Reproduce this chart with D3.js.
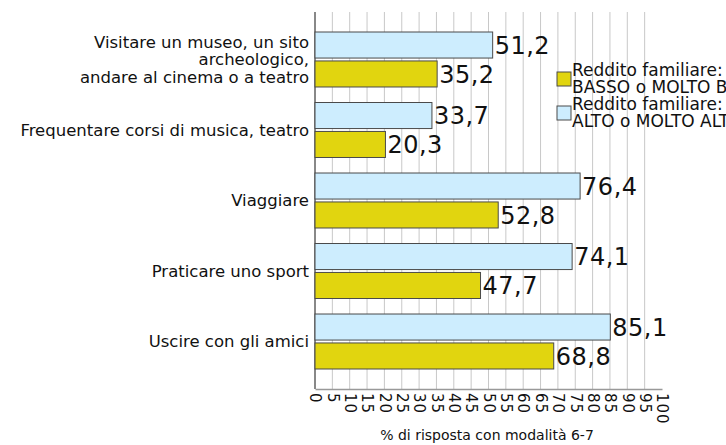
<!DOCTYPE html>
<html>
<head>
<meta charset="utf-8">
<script src="https://cdn.jsdelivr.net/npm/d3@7"></script>
<style>
  body { margin: 0; background: #fff; }
  svg { display: block; overflow: hidden; }
  text { font-family: "DejaVu Sans", sans-serif; fill: #111; }
</style>
</head>
<body>
<svg id="chart"></svg>
<script>
// data
const categories = [
  "Visitare un museo, un sito archeologico, andare al cinema o a teatro",
  "Frequentare corsi di musica, teatro",
  "Viaggiare",
  "Praticare uno sport",
  "Uscire con gli amici"
];
const categoryLines = [
  ["Visitare un museo, un sito", "archeologico,", "andare al cinema o a teatro"],
  ["Frequentare corsi di musica, teatro"],
  ["Viaggiare"],
  ["Praticare uno sport"],
  ["Uscire con gli amici"]
];
const seriesKeys = ["alto", "basso"];
const altoValues = [51.2, 33.7, 76.4, 74.1, 85.1];
const bassoValues = [35.2, 20.3, 52.8, 47.7, 68.8];
const xTicks = d3.range(0, 101, 5);
const legendLabels = [
  ["Reddito familiare:", "BASSO o MOLTO BASSO"],
  ["Reddito familiare:", "ALTO  o MOLTO ALTO"]
];
const axisTitle = "% di risposta con modalità 6-7";

const colors = { alto: "#cdedfe", basso: "#e1d50f" };

const width = 726, height = 445;
const plot = { left: 315, right: 662, top: 12, bottom: 389 };

const svg = d3.select("#chart").attr("width", width).attr("height", height);

const rows = categories.map((c, i) => ({ cat: c, alto: altoValues[i], basso: bassoValues[i] }));

const xScale = d3.scaleLinear().domain([0, 100]).range([plot.left, plot.right]);
const yScale = d3.scaleBand().domain(categories).range([32, 369]).paddingInner(0.22);
const ySub = d3.scaleBand().domain(seriesKeys).range([0, yScale.bandwidth()]).paddingInner(0.1);

// gridlines
svg.append("g")
  .selectAll("line")
  .data(xTicks.filter(t => t > 0 && t < 100))
  .join("line")
  .attr("x1", d => xScale(d)).attr("x2", d => xScale(d))
  .attr("y1", plot.top).attr("y2", plot.bottom)
  .attr("stroke", "#c8c8c8").attr("stroke-width", 1);

// bottom axis
const xAxis = d3.axisBottom(xScale).tickValues(xTicks).tickSize(0).tickPadding(4);
const xAxisG = svg.append("g")
  .attr("transform", `translate(0,${plot.bottom})`)
  .call(xAxis);
xAxisG.select(".domain").attr("stroke", "#999").attr("stroke-width", 1.5);
xAxisG.selectAll(".tick text")
  .attr("transform", "rotate(90)")
  .attr("x", 4).attr("y", 0).attr("dy", "0.35em")
  .attr("text-anchor", "start")
  .style("font-family", "DejaVu Sans, sans-serif")
  .style("font-size", "15px")
  .style("letter-spacing", "1px")
  .attr("fill", "#111");

// left axis line
svg.append("line")
  .attr("x1", plot.left).attr("x2", plot.left)
  .attr("y1", plot.top).attr("y2", plot.bottom)
  .attr("stroke", "#888").attr("stroke-width", 2);

// bars
const groups = svg.append("g")
  .selectAll("g")
  .data(rows)
  .join("g")
  .attr("transform", d => `translate(0,${yScale(d.cat)})`);

groups.selectAll("rect")
  .data(d => seriesKeys.map(k => ({ key: k, value: d[k] })))
  .join("rect")
  .attr("x", xScale(0))
  .attr("y", d => ySub(d.key))
  .attr("width", d => xScale(d.value) - xScale(0))
  .attr("height", ySub.bandwidth())
  .attr("fill", d => colors[d.key])
  .attr("stroke", "#4a4a4a").attr("stroke-width", 1);

groups.selectAll("text.val")
  .data(d => seriesKeys.map(k => ({ key: k, value: d[k] })))
  .join("text")
  .attr("class", "val")
  .attr("x", d => xScale(d.value) + 2)
  .attr("y", d => ySub(d.key) + ySub.bandwidth() / 2)
  .attr("dy", "0.36em")
  .style("font-size", "24px")
  .style("letter-spacing", "0.5px")
  .text(d => d3.format(".1f")(d.value).replace(".", ","));

// category labels
const catSize = 16.5;
const catLabels = svg.append("g")
  .selectAll("text")
  .data(categories)
  .join("text")
  .attr("text-anchor", "end")
  .style("font-size", catSize + "px")
  .attr("x", 309)
  .attr("y", d => yScale(d) + yScale.bandwidth() / 2);

catLabels.each(function(d, i) {
  const lines = categoryLines[i];
  const lh = 17.5;
  d3.select(this).selectAll("tspan")
    .data(lines)
    .join("tspan")
    .attr("x", 309)
    .attr("dy", (l, j) => j === 0 ? `${0.35 * catSize - (lines.length - 1) * lh / 2}px` : `${lh}px`)
    .text(l => l);
});

// legend (runs past the right edge, as in the original)
const legend = svg.append("g").attr("transform", "translate(557,64)");
const legendKeys = ["basso", "alto"];
legendKeys.forEach((k, i) => {
  const g = legend.append("g").attr("transform", `translate(0,${i * 34})`);
  g.append("rect")
    .attr("x", 0).attr("y", 8)
    .attr("width", 14).attr("height", 14)
    .attr("fill", colors[k]).attr("stroke", "#4a4a4a");
  g.selectAll("text")
    .data(legendLabels[i])
    .join("text")
    .attr("x", 15)
    .attr("y", (l, j) => 12 + j * 16.5)
    .style("font-size", "17px")
    .text(l => l);
});

// axis title
svg.append("text")
  .attr("x", 487).attr("y", 440)
  .attr("text-anchor", "middle")
  .style("font-size", "14px")
  .text(axisTitle);
</script>
</body>
</html>
